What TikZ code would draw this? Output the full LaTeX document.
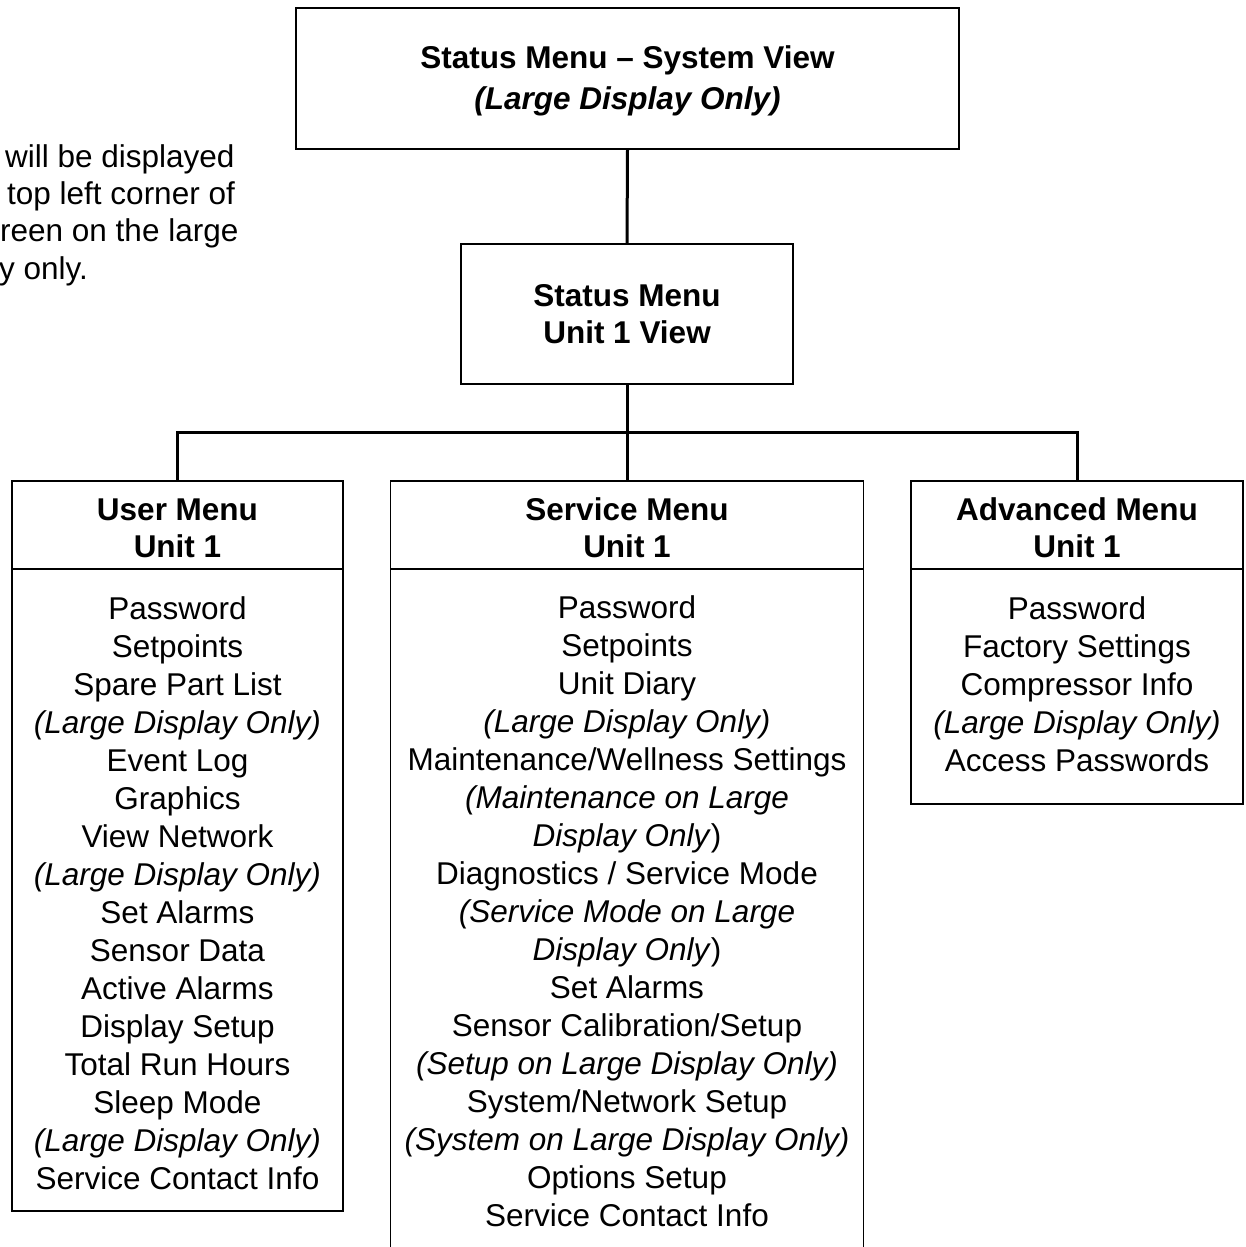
\documentclass[tikz,border=0pt]{standalone}
\usepackage{fontspec}
\setmainfont{Liberation Sans}
\usetikzlibrary{positioning}
\newcommand{\lift}[1]{\rule{0pt}{#1pt}}

\begin{document}
\begin{tikzpicture}[x=1pt,y=-1pt,
  box/.style={draw,line width=1.6pt,rectangle,inner sep=0pt,outer sep=0pt,align=center,font=\fontsize{31.5}{38}\selectfont},
  head/.style={box,font=\fontsize{31.5}{37}\selectfont\bfseries,minimum height=88pt},
  wire/.style={line width=3pt},
  note/.style={anchor=base west,inner sep=0pt,font=\fontsize{31.5}{38}\selectfont}]
\useasboundingbox (0,0) rectangle (1246,1247);
\clip (0,0) rectangle (1246,1247);

% text cut off at the left edge
\node (note1) at (5,167)[note] {will be displayed};
\node (note2) at (7,204)[note] {top left corner of};
\node (note3) at (0,241)[note] {reen on the large};
\node (note4) at (-1,279)[note] {y only.};

% status menus
\node (sysview) at (627.5,78.5)[head,minimum width=663pt,minimum height=141pt] {\lift{27}Status Menu \textendash{} System View\\[4pt]\textit{(Large Display Only)}};
\node (unitview) at (627,314)[head,minimum width=332pt,minimum height=140pt] {Status Menu\\Unit 1 View};

% user menu
\node (userhead) at (177.5,525)[head,minimum width=331pt] {\lift{28}User Menu\\Unit 1};
\node (userbody) [box,below=0pt of userhead,minimum width=331pt,minimum height=642pt] {\lift{29}Password\\Setpoints\\Spare Part List\\\textit{(Large Display Only)}\\Event Log\\Graphics\\View Network\\\textit{(Large Display Only)}\\Set Alarms\\Sensor Data\\Active Alarms\\Display Setup\\Total Run Hours\\Sleep Mode\\\textit{(Large Display Only)}\\Service Contact Info};

% service menu
\node (servhead) at (627,525)[head,minimum width=473pt] {\lift{28}Service Menu\\Unit 1};
\node (servbody) [box,below=0pt of servhead,minimum width=473pt,minimum height=684pt] {Password\\Setpoints\\Unit Diary\\\textit{(Large Display Only)}\\Maintenance/Wellness Settings\\\textit{(Maintenance on Large}\\\textit{Display Only})\\Diagnostics / Service Mode\\\textit{(Service Mode on Large}\\\textit{Display Only})\\Set Alarms\\Sensor Calibration/Setup\\\textit{(Setup on Large Display Only)}\\System/Network Setup\\\textit{(System on Large Display Only)}\\Options Setup\\Service Contact Info};

% advanced menu
\node (advhead) at (1077,525)[head,minimum width=332pt] {\lift{28}Advanced Menu\\Unit 1};
\node (advbody) [box,below=0pt of advhead,minimum width=332pt,minimum height=235pt,execute at end node={\rule[-4pt]{0pt}{0pt}}] {Password\\Factory Settings\\Compressor Info\\\textit{(Large Display Only)}\\Access Passwords};

\coordinate (bus) at (627,432);
\draw [wire] (sysview.south) -- (unitview.north);
\draw [wire] (unitview.south) -- (bus);
\draw [wire] (userhead.north) |- (bus) -| (advhead.north);
\draw [wire] (bus) -- (servhead.north);
\end{tikzpicture}
\end{document}
